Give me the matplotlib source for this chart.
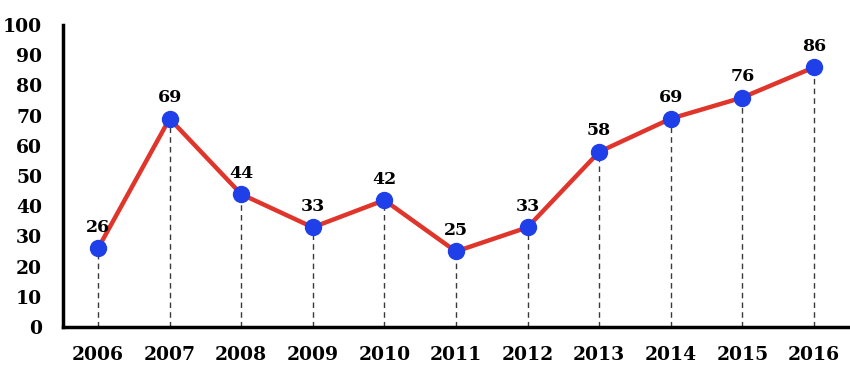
import matplotlib.pyplot as plt

years = ["2006", "2007", "2008", "2009", "2010", "2011", "2012", "2013", "2014", "2015", "2016"]
values = [26, 69, 44, 33, 42, 25, 33, 58, 69, 76, 86]

plt.rcParams['font.family'] = ['DejaVu Serif']
plt.rcParams['font.weight'] = 'bold'

fig = plt.figure(figsize=(8.5, 3.69), dpi=100)
ax = fig.add_axes([0.074, 0.114, 0.924, 0.818])

x = list(range(len(years)))
ax.vlines(x, 0, values, colors="#3a3a3a", linestyles=(0, (4, 3)), linewidth=1)
ax.plot(x, values, color="#e0352b", linewidth=3.2, zorder=3)
ax.plot(x, values, "o", color="#1f3fe8", markersize=11.5, zorder=4)

for xi, v in zip(x, values):
    ax.annotate(str(v), (xi, v), xytext=(0, 9), textcoords="offset points",
                ha="center", va="bottom", fontsize=12.5, fontweight="bold")

ax.set_xlim(-0.49, 10.48)
ax.set_ylim(0, 100)
ax.set_yticks(range(0, 101, 10))
ax.set_xticks(x)
ax.set_xticklabels(years)
ax.tick_params(length=0, labelsize=13.5)
ax.tick_params(axis="y", pad=15)
ax.tick_params(axis="x", pad=14)
for lab in ax.get_xticklabels() + ax.get_yticklabels():
    lab.set_fontweight("bold")

ax.spines["top"].set_visible(False)
ax.spines["right"].set_visible(False)
ax.spines["left"].set_linewidth(2.5)
ax.spines["bottom"].set_linewidth(2.5)

fig.savefig("out.png", dpi=100)
